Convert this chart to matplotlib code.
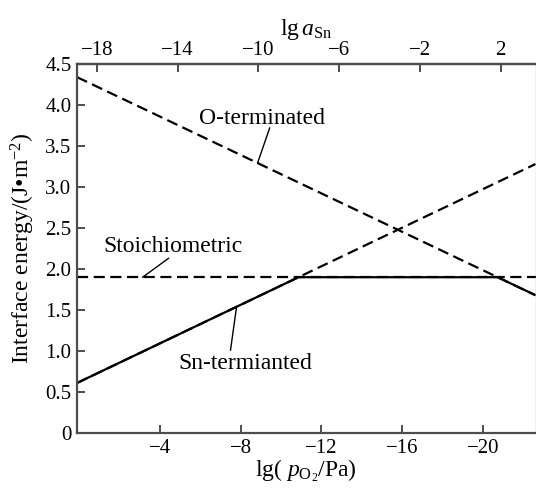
import numpy as np
import matplotlib
matplotlib.use("Agg")
import matplotlib.pyplot as plt

plt.rcParams["font.family"] = ["Liberation Serif", "DejaVu Serif"]
plt.rcParams["mathtext.fontset"] = "custom"
plt.rcParams["mathtext.rm"] = "Liberation Serif"
plt.rcParams["mathtext.it"] = "Liberation Serif:italic"

# Interface energies (J/m^2) at the two ends of the lg(pO2/Pa) range
lg_po2_ends = [0.1, -22.6]
sn_terminated = [0.61, 3.28]
o_terminated = [4.34, 1.68]
stoichiometric = [1.90, 1.90]

# Offset linking the two abscissae: lg a_Sn = -lg(pO2/Pa) + offset
sn_offset = -18.88

bottom_ticks = [-4, -8, -12, -16, -20]
top_ticks = [-18, -14, -10, -6, -2, 2]
y_ticks = [0, 0.5, 1.0, 1.5, 2.0, 2.5, 3.0, 3.5, 4.0, 4.5]
y_ticklabels = ["0", "0.5", "1.0", "1.5", "2.0", "2.5", "3.0", "3.5", "4.0", "4.5"]

x = np.array(lg_po2_ends)
sn = np.array(sn_terminated)
ot = np.array(o_terminated)
st = np.array(stoichiometric)


def crossing(a, b):
    # abscissa where two straight lines (given by their end values) meet
    d0, d1 = a[0] - b[0], a[1] - b[1]
    t = d0 / (d0 - d1)
    return x[0] + t * (x[1] - x[0])


def value(line, xv):
    return np.interp(xv, x[::-1], line[::-1])


x1 = crossing(sn, st)
x2 = crossing(ot, st)

fig = plt.figure(figsize=(5.36, 4.90), dpi=100)
ax = fig.add_axes([77 / 536, (490 - 433) / 490, (535.5 - 77) / 536, (433 - 64) / 490])

dash = (0, (5, 2.5))
lw = 1.6
for line in (sn, ot, st):
    ax.plot(x, line, color="black", lw=lw, linestyle=dash, dash_capstyle="butt")

# lowest-energy envelope drawn solid
ex = np.array([x[0], x1, x2, x[1]])
ey = np.array([value(sn, x[0]), value(sn, x1), value(ot, x2), value(ot, x[1])])
ax.plot(ex, ey, color="black", lw=lw, solid_capstyle="butt")

ax.set_xlim(0.1, -22.6)
ax.set_ylim(0, 4.5)
ax.set_xticks(bottom_ticks)
ax.set_xticklabels(["\u2212%d" % abs(t) for t in bottom_ticks])
ax.set_yticks(y_ticks)
ax.set_yticklabels(y_ticklabels)

spine_col = "#4d4d4d"
for s in ax.spines.values():
    s.set_color(spine_col)
    s.set_linewidth(1.6)
ax.spines["right"].set_color("#bbbbbb")
ax.spines["right"].set_linewidth(1.0)

ax.tick_params(axis="both", direction="in", length=6, width=1.4, color=spine_col,
               labelsize=15, pad=4)
ax.tick_params(axis="y", right=False)

top = ax.secondary_xaxis("top", functions=(lambda v: -v + sn_offset, lambda v: -v + sn_offset))
top.set_xticks(top_ticks)
top.set_xticklabels([("\u2212%d" % abs(t)) if t < 0 else "%d" % t for t in top_ticks])
top.tick_params(direction="in", length=6, width=1.4, color=spine_col, labelsize=15, pad=3)
top.spines["top"].set_color(spine_col)
top.spines["top"].set_linewidth(1.6)
top.set_xlabel(r"lg$\,a_{\rm Sn}$", fontsize=17, labelpad=4)

ax.set_xlabel(r"lg( $p_{\rm O_2}$/Pa)", fontsize=17, labelpad=0)
ax.set_ylabel("Interface energy/(J\u2022m$^{-2}$)", fontsize=17, labelpad=6)

# curve labels with leader lines
ax.text(-9.04, 3.84, "O-terminated", fontsize=17, ha="center", va="center")
ax.plot([-9.44, -8.84], [3.72, value(ot, -8.84)], color="black", lw=1.0)

ax.text(-4.63, 2.27, "Stoichiometric", fontsize=17, ha="center", va="center")
ax.plot([-4.43, -3.15], [2.13, 1.90], color="black", lw=1.0)

ax.text(-8.22, 0.85, "Sn-termianted", fontsize=17, ha="center", va="center")
ax.plot([-7.5, -7.8], [1.01, value(sn, -7.8)], color="black", lw=1.0)

fig.savefig("out.png", dpi=100)
